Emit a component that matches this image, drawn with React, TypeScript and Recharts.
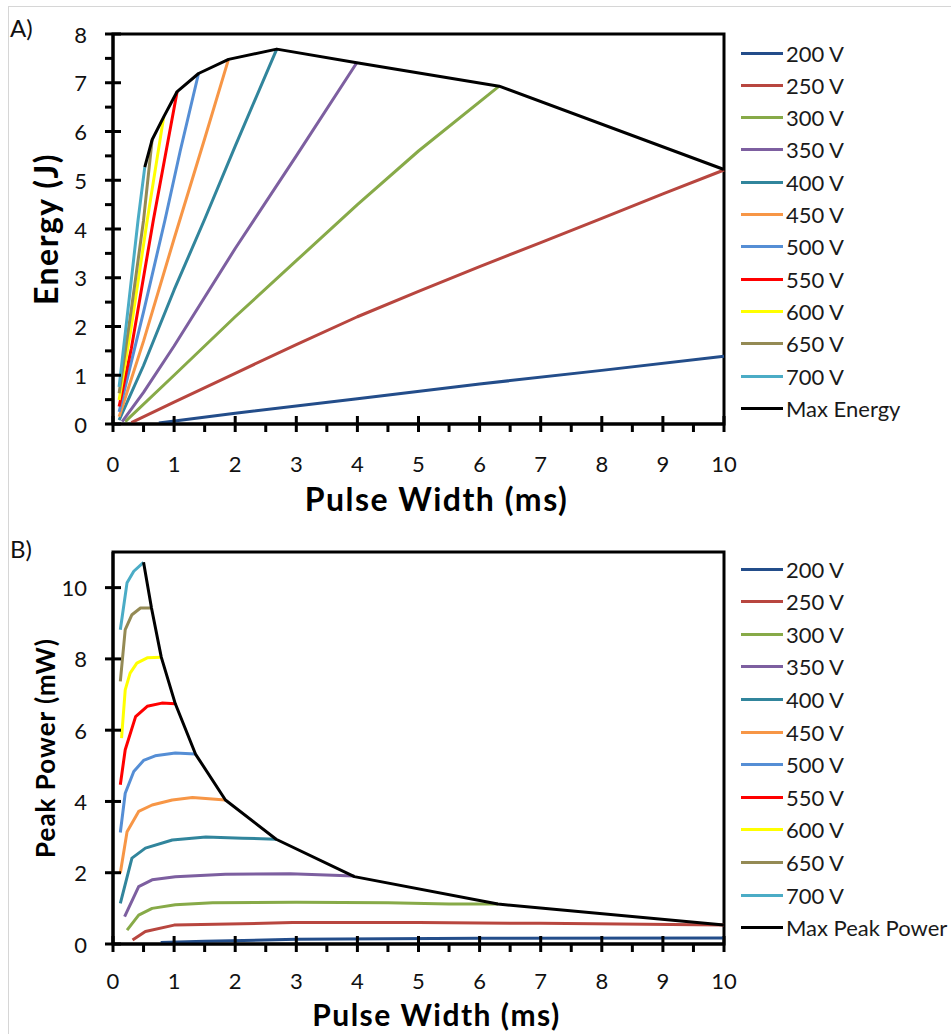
import { Label, Line, LineChart, ReferenceArea, XAxis, YAxis } from "recharts";

const seriesNames = ["200 V", "250 V", "300 V", "350 V", "400 V", "450 V", "500 V", "550 V", "600 V", "650 V", "700 V"];
const seriesColors = ["#234d8a", "#b8463f", "#87aa48", "#7d5fa0", "#31859c", "#f79646", "#558ed5", "#ff0000", "#ffff00", "#948a54", "#4bacc6"];

const xTicks = [0, 0.5, 1, 1.5, 2, 2.5, 3, 3.5, 4, 4.5, 5, 5.5, 6, 6.5, 7, 7.5, 8, 8.5, 9, 9.5, 10];
const energyTicks = [0, 0.5, 1, 1.5, 2, 2.5, 3, 3.5, 4, 4.5, 5, 5.5, 6, 6.5, 7, 7.5, 8];
const powerTicks = [0, 2, 4, 6, 8, 10];

// A) energy (J) vs pulse width (ms)
const energy200: [number, number][] = [[0.75, 0.02], [2, 0.22], [4, 0.52], [6, 0.82], [8, 1.1], [10, 1.39]];
const energy250: [number, number][] = [[0.3, 0.03], [1, 0.45], [2, 1.04], [3, 1.63], [4, 2.2], [5, 2.72], [6, 3.23], [7, 3.72], [8, 4.22], [9, 4.72], [10, 5.21]];
const energy300: [number, number][] = [[0.2, 0.05], [1, 1.0], [2, 2.2], [3, 3.35], [4, 4.5], [5, 5.6], [6.32, 6.93]];
const energy350: [number, number][] = [[0.15, 0.05], [0.5, 0.65], [1, 1.6], [2, 3.6], [3, 5.5], [3.99, 7.41]];
const energy400: [number, number][] = [[0.1, 0.08], [0.5, 1.2], [1, 2.75], [1.5, 4.2], [2, 5.7], [2.68, 7.69]];
const energy450: [number, number][] = [[0.1, 0.15], [0.5, 1.7], [1, 3.8], [1.5, 5.85], [1.89, 7.48]];
const energy500: [number, number][] = [[0.1, 0.25], [0.5, 2.3], [0.85, 4.18], [1.1, 5.6], [1.4, 7.19]];
const energy550: [number, number][] = [[0.1, 0.36], [0.3, 1.55], [0.66, 4.18], [1.05, 6.82]];
const energy600: [number, number][] = [[0.1, 0.49], [0.3, 2.0], [0.56, 4.18], [0.83, 6.3]];
const energy650: [number, number][] = [[0.1, 0.63], [0.3, 2.35], [0.5, 4.18], [0.64, 5.83]];
const energy700: [number, number][] = [[0.1, 0.76], [0.25, 2.4], [0.41, 4.18], [0.52, 5.27]];
const maxEnergy: [number, number][] = [[0.52, 5.27], [0.64, 5.83], [0.83, 6.3], [1.05, 6.82], [1.4, 7.19], [1.89, 7.48], [2.68, 7.69], [3.99, 7.41], [6.32, 6.93], [10, 5.22]];

// B) peak power (mW) vs pulse width (ms)
const power200: [number, number][] = [[0.78, 0.04], [1.5, 0.08], [3, 0.13], [6, 0.16], [10, 0.17]];
const power250: [number, number][] = [[0.32, 0.11], [0.53, 0.35], [1, 0.53], [2.94, 0.6], [5, 0.6], [7, 0.58], [10, 0.53]];
const power300: [number, number][] = [[0.23, 0.39], [0.42, 0.81], [0.64, 1.0], [1.02, 1.1], [1.63, 1.16], [3, 1.17], [4.5, 1.16], [5.5, 1.12], [6.3, 1.12]];
const power350: [number, number][] = [[0.19, 0.77], [0.42, 1.61], [0.64, 1.8], [1.02, 1.89], [1.84, 1.96], [2.9, 1.97], [3.95, 1.91]];
const power400: [number, number][] = [[0.12, 1.14], [0.31, 2.41], [0.53, 2.69], [0.97, 2.92], [1.52, 3.0], [2.12, 2.97], [2.67, 2.94]];
const power450: [number, number][] = [[0.12, 1.99], [0.23, 3.15], [0.42, 3.72], [0.64, 3.9], [0.97, 4.04], [1.3, 4.11], [1.84, 4.04]];
const power500: [number, number][] = [[0.12, 3.13], [0.2, 4.23], [0.34, 4.84], [0.5, 5.15], [0.69, 5.28], [1.02, 5.36], [1.35, 5.33]];
const power550: [number, number][] = [[0.12, 4.47], [0.2, 5.45], [0.37, 6.38], [0.56, 6.67], [0.8, 6.76], [1.02, 6.74]];
const power600: [number, number][] = [[0.14, 5.78], [0.2, 7.13], [0.28, 7.6], [0.39, 7.88], [0.56, 8.03], [0.79, 8.05]];
const power650: [number, number][] = [[0.12, 7.37], [0.2, 8.82], [0.31, 9.24], [0.45, 9.43], [0.63, 9.43]];
const power700: [number, number][] = [[0.12, 8.82], [0.23, 10.14], [0.34, 10.46], [0.5, 10.71]];
const maxPower: [number, number][] = [[0.5, 10.71], [0.63, 9.43], [0.79, 8.05], [1.02, 6.74], [1.35, 5.33], [1.84, 4.04], [2.67, 2.94], [3.95, 1.89], [6.3, 1.12], [10, 0.53]];

const energySeries = [energy200, energy250, energy300, energy350, energy400, energy450, energy500, energy550, energy600, energy650, energy700];
const powerSeries = [power200, power250, power300, power350, power400, power450, power500, power550, power600, power650, power700];

const FONT = "Lato, 'Open Sans', sans-serif";
const TICK = 8;
const GAP = 2; // recharts default tickMargin

const toPoints = (pts: [number, number][]) => pts.map(([x, y]) => ({ x, y }));

// inner half of the crossing major ticks + labels; outer half comes from the native tickLine
const makeXTick = (labelGap: number) => (props: any) => {
  const { x, y, payload } = props;
  const axisY = y - TICK - GAP;
  const major = Number.isInteger(payload.value);
  return (
    <g>
      {major && <rect x={x - 1.5} y={axisY - TICK} width={3} height={TICK} fill="#000" />}
      {major && (
        <text x={x} y={axisY + labelGap} textAnchor="middle" dominantBaseline="central" fontSize={22} fill="#111" fontFamily={FONT}>
          {payload.value}
        </text>
      )}
    </g>
  );
};

const renderYTick = (props: any) => {
  const { x, y, payload } = props;
  const axisX = x + TICK + GAP;
  const major = Number.isInteger(payload.value);
  return (
    <g>
      {major && <rect x={axisX} y={y - 1.5} width={TICK} height={3} fill="#000" />}
      {major && (
        <text x={axisX - 26} y={y} textAnchor="end" dominantBaseline="central" fontSize={22} fill="#111" fontFamily={FONT}>
          {payload.value}
        </text>
      )}
    </g>
  );
};

function XTitle({ viewBox, value, dy, size }: any) {
  const cx = viewBox.x + viewBox.width / 2 + 18;
  return (
    <text x={cx} y={viewBox.y + dy} textAnchor="middle" dominantBaseline="central" fontSize={size} letterSpacing={1.5} fontWeight={700} fontFamily={FONT} fill="#000">
      {value}
    </text>
  );
}

function YTitle({ viewBox, value, size, spacing }: any) {
  const cx = 45;
  const cy = viewBox.y + viewBox.height / 2;
  return (
    <text x={cx} y={cy} transform={`rotate(-90, ${cx}, ${cy})`} textAnchor="middle" dominantBaseline="central" fontSize={size} letterSpacing={spacing} fontWeight={700} fontFamily={FONT} fill="#000">
      {value}
    </text>
  );
}

function LegendBox({ top, step, lastLabel }: { top: number; step: number; lastLabel: string }) {
  const items = [...seriesNames.map((name, i) => ({ name, color: seriesColors[i] })), { name: lastLabel, color: "#000" }];
  return (
    <div style={{ position: "absolute", left: 741, top: 0 }}>
      {items.map((item, i) => (
        <div key={item.name} style={{ position: "absolute", top: top + i * step - 14, height: 28, display: "flex", alignItems: "center", whiteSpace: "nowrap" }}>
          <div style={{ width: 42, height: 3, background: item.color }} />
          <span style={{ marginLeft: 3, fontSize: 22, fontFamily: FONT, color: "#1a1a1a" }}>{item.name}</span>
        </div>
      ))}
    </div>
  );
}

function Panel({ series, maxSeries, yMax, yTicks, yTitle, titleSize, titleSpacing, height, bottom, xTitleDy, xTitleSize, labelGap }: any) {
  return (
    <LineChart width={951} height={height} margin={{ top: 34, right: 227, bottom, left: 53 }}>
      <XAxis
        dataKey="x"
        type="number"
        domain={[0, 10]}
        ticks={xTicks}
        interval={0}
        tickSize={TICK}
        tickLine={{ stroke: "#000", strokeWidth: 3 }}
        tick={makeXTick(labelGap)}
        height={60}
        axisLine={{ stroke: "#000", strokeWidth: 3 }}
      >
        <Label content={<XTitle value="Pulse Width (ms)" dy={xTitleDy} size={xTitleSize} />} />
      </XAxis>
      <YAxis
        type="number"
        domain={[0, yMax]}
        ticks={yTicks}
        interval={0}
        tickSize={TICK}
        tickLine={{ stroke: "#000", strokeWidth: 3 }}
        tick={renderYTick}
        width={60}
        axisLine={{ stroke: "#000", strokeWidth: 3 }}
      >
        <Label content={<YTitle value={yTitle} size={titleSize} spacing={titleSpacing} />} />
      </YAxis>
      {series.map((pts: [number, number][], i: number) => (
        <Line
          key={seriesNames[i]}
          data={toPoints(pts)}
          dataKey="y"
          type="linear"
          stroke={seriesColors[i]}
          strokeWidth={3}
          dot={false}
          isAnimationActive={false}
          strokeLinejoin="round"
        />
      ))}
      <Line data={toPoints(maxSeries)} dataKey="y" type="linear" stroke="#000" strokeWidth={3} dot={false} isAnimationActive={false} strokeLinejoin="round" />
      <ReferenceArea x1={0} x2={10} y1={0} y2={yMax} fill="none" fillOpacity={0} stroke="#000" strokeWidth={3} ifOverflow="visible" />
    </LineChart>
  );
}

export default function App() {
  return (
    <div style={{ position: "absolute", left: 0, top: 0, width: 951, height: 1034, background: "#fff", fontFamily: FONT, overflow: "hidden" }}>
      <div style={{ position: "absolute", left: 8, top: 6, width: 943, height: 1028, borderTop: "1px solid #d6d6d6", borderLeft: "1px solid #d6d6d6", pointerEvents: "none" }} />
      <div style={{ position: "absolute", left: 10, top: 13, fontSize: 24, color: "#111" }}>A)</div>
      <div style={{ position: "absolute", left: 10, top: 534, fontSize: 24, color: "#111" }}>B)</div>

      <div style={{ position: "absolute", left: 0, top: 0 }}>
        <Panel
          series={energySeries}
          maxSeries={maxEnergy}
          yMax={8}
          yTicks={energyTicks}
          yTitle="Energy (J)"
          titleSize={32}
          titleSpacing={1.5}
          height={520}
          bottom={36}
          xTitleDy={74}
          xTitleSize={32}
          labelGap={39}
        />
      </div>
      <LegendBox top={53} step={32.3} lastLabel="Max Energy" />

      <div style={{ position: "absolute", left: 0, top: 518 }}>
        <Panel
          series={powerSeries}
          maxSeries={maxPower}
          yMax={11}
          yTicks={powerTicks}
          yTitle="Peak Power (mW)"
          titleSize={26}
          titleSpacing={1}
          height={516}
          bottom={30}
          xTitleDy={70}
          xTitleSize={30}
          labelGap={36}
        />
      </div>
      <LegendBox top={569} step={32.6} lastLabel="Max Peak Power" />
    </div>
  );
}
